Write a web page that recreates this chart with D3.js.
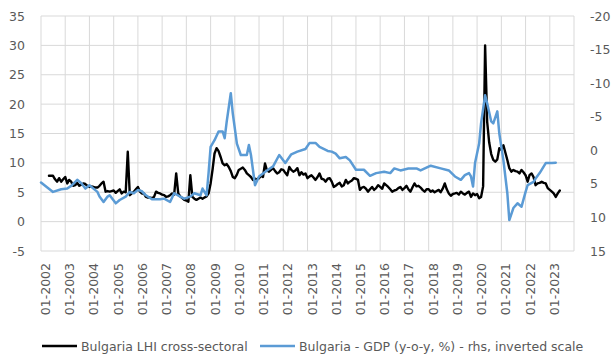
<!DOCTYPE html>
<html>
<head>
<meta charset="utf-8">
<script src="https://cdn.jsdelivr.net/npm/d3@7"></script>
<style>
  html, body { margin: 0; padding: 0; background: #fff; }
  svg { display: block; }
</style>
</head>
<body>
<svg id="chart" width="612" height="356"></svg>
<script>
// Left axis: Bulgaria LHI cross-sectoral (monthly, from May 2002)
const lhiStart = "2002-05";
const lhiValues = [
  7.8,7.8,7.8,7.2,6.8,7.4,6.8,7.2,                       // 2002
  7.6,6.5,7.1,6.8,6.1,6.2,6.6,6.1,6.3,6.5,6.4,6.1,       // 2003
  5.9,6.0,5.9,5.8,5.8,6.1,6.5,6.8,5.1,5.2,5.1,5.2,       // 2004
  5.3,4.9,5.2,5.5,4.8,5.1,5.0,11.9,4.5,4.8,5.1,5.5,      // 2005
  5.9,5.1,4.8,4.8,4.2,4.1,4.1,4.0,4.2,5.1,4.9,4.8,       // 2006
  4.6,4.5,4.2,4.3,4.5,4.8,4.6,8.2,4.8,4.3,4.0,3.7,       // 2007
  3.6,3.4,7.9,4.2,3.9,3.7,3.9,4.1,3.9,4.1,4.3,4.8,       // 2008
  6.5,9.0,11.6,12.5,12.0,11.0,9.9,9.6,9.8,9.3,8.6,7.6,   // 2009
  7.4,8.0,8.8,9.0,9.2,8.8,8.2,7.9,7.6,7.1,7.3,7.2,       // 2010
  7.4,7.8,7.6,9.9,8.7,8.5,8.8,9.1,8.6,8.2,8.4,8.9,       // 2011
  8.8,8.3,7.9,9.3,8.8,8.5,8.7,9.1,7.9,8.4,8.0,8.2,       // 2012
  7.4,7.7,7.9,7.5,7.1,7.6,8.2,7.3,7.2,6.8,7.3,7.4,       // 2013
  6.8,5.9,6.1,6.4,6.6,6.0,6.2,7.1,6.5,6.8,7.0,7.4,       // 2014
  7.3,7.1,5.4,5.8,5.9,5.6,5.1,5.5,5.9,5.4,5.7,6.2,       // 2015
  5.9,5.6,6.5,6.2,5.9,5.5,5.1,5.3,5.4,5.7,5.9,5.4,       // 2016
  5.7,6.1,5.5,5.1,5.8,6.5,6.0,6.1,5.8,5.4,5.1,5.5,       // 2017
  5.5,5.1,5.3,5.0,5.2,5.4,5.0,5.6,6.5,5.5,4.8,4.4,       // 2018
  4.7,4.8,4.9,4.6,5.1,4.8,4.6,4.9,5.1,4.2,4.8,4.5,       // 2019
  4.7,4.0,4.2,6.0,30.0,17.0,13.5,11.5,10.5,10.2,10.6,12.5, // 2020
  12.2,13.0,11.8,10.5,9.1,8.5,8.8,8.6,8.5,8.2,8.8,8.4,   // 2021
  7.9,6.8,7.9,8.2,7.6,6.2,6.5,6.6,6.8,6.6,6.5,5.7,       // 2022
  5.4,5.1,4.8,4.2,4.8,5.3                                // 2023
];

// Right axis (inverted): Bulgaria GDP, y-o-y %
const gdpMonths = [
  "2002-01","2002-07","2002-11","2003-02","2003-04","2003-07","2003-09","2003-11",
  "2004-01","2004-05","2004-06","2004-08","2004-10","2004-11","2005-02","2005-04",
  "2005-07","2005-09","2005-11","2006-01","2006-03","2006-05","2006-08","2006-12",
  "2007-02","2007-05","2007-07","2007-10","2007-12","2008-03","2008-05","2008-08",
  "2008-09","2008-11","2008-12","2009-01","2009-03","2009-05","2009-07","2009-08",
  "2009-09","2009-11","2009-12","2010-02","2010-04","2010-07","2010-08","2010-09",
  "2010-11","2011-01","2011-05","2011-08","2011-11","2012-02","2012-05","2012-08",
  "2012-12","2013-02","2013-05","2013-07","2013-11","2014-01","2014-03","2014-05",
  "2014-08","2014-10","2015-01","2015-05","2015-08","2015-11","2016-03","2016-06",
  "2016-08","2016-11","2017-03","2017-07","2017-09","2018-02","2018-07","2018-11",
  "2019-02","2019-05","2019-07","2019-09","2019-10","2019-11","2019-12","2020-02",
  "2020-03","2020-05","2020-06","2020-08","2020-09","2020-11","2020-12","2021-02",
  "2021-04","2021-05","2021-07","2021-09","2021-11","2022-01","2022-02","2022-05",
  "2022-06","2022-08","2022-11","2023-02","2023-04"
];
const gdpValues = [
  4.8,6.2,5.8,5.7,5.3,4.4,4.9,5.7,
  5.2,6.2,6.9,7.7,6.9,6.7,7.9,7.4,
  6.9,6.2,6.4,5.9,6.1,6.7,7.3,7.3,
  7.2,7.7,6.4,6.9,7.2,6.9,6.4,6.7,
  5.7,6.7,3.4,-0.5,-1.5,-2.8,-2.8,-1.8,
  -4.3,-8.5,-5.5,-1.0,0.7,0.7,-0.8,0.7,
  5.2,3.9,3.0,2.4,0.7,1.9,0.6,0.2,
  -0.2,-1.1,-1.1,-0.5,0.1,0.2,0.5,1.2,
  1.0,1.5,2.9,2.9,3.8,3.4,3.2,3.4,
  2.7,3.0,2.7,2.7,3.0,2.3,2.7,3.0,
  3.9,4.4,3.7,3.4,3.9,5.4,1.9,-1.0,
  -4.0,-8.2,-7.0,-4.3,-4.0,-5.8,-2.5,1.5,
  6.4,10.4,8.6,7.9,8.4,6.2,5.2,4.7,
  4.2,3.4,1.9,1.9,1.85
];

const leftTicks = [-5, 0, 5, 10, 15, 20, 25, 30, 35];
const rightTicks = [-20, -15, -10, -5, 0, 5, 10, 15];
const yearTicks = d3.range(2002, 2024);
const seriesNames = ["Bulgaria LHI cross-sectoral", "Bulgaria - GDP (y-o-y, %) - rhs, inverted scale"];
const seriesColors = ["#000000", "#5B9BD5"];

const parseMonth = d3.timeParse("%Y-%m");
const fmt = d3.timeFormat("%m-%Y");
const numFmt = d => String(d);   // plain hyphen for negatives

const plot = { left: 41, right: 574, top: 16, bottom: 251 };
const FONT = '"DejaVu Sans", sans-serif';
const TEXT_COLOR = "#595959";
const GRID_COLOR = "#D9D9D9";

const x = d3.scaleTime()
  .domain([new Date(2002, 0, 1), new Date(2024, 0, 1)])
  .range([plot.left, plot.right]);
const yL = d3.scaleLinear().domain([-5, 35]).range([plot.bottom, plot.top]);
const yR = d3.scaleLinear().domain([-20, 15]).range([plot.top, plot.bottom]);

const svg = d3.select("#chart");

// Grid lines: horizontal at left-axis ticks, vertical at each January
const grid = svg.append("g");
grid.selectAll("line.gh").data(leftTicks).enter().append("line")
  .attr("class", "gh")
  .attr("x1", plot.left).attr("x2", plot.right)
  .attr("y1", d => yL(d)).attr("y2", d => yL(d))
  .attr("stroke", GRID_COLOR).attr("stroke-width", 1);
grid.selectAll("line.gv").data(d3.range(2002, 2025)).enter().append("line")
  .attr("class", "gv")
  .attr("x1", d => x(new Date(d, 0, 1)))
  .attr("x2", d => x(new Date(d, 0, 1)))
  .attr("y1", plot.top).attr("y2", plot.bottom)
  .attr("stroke", GRID_COLOR).attr("stroke-width", 1);

// Left axis labels
const axL = svg.append("g")
  .attr("transform", `translate(${plot.left},0)`)
  .call(d3.axisLeft(yL).tickValues(leftTicks).tickFormat(numFmt).tickSize(0).tickPadding(16));
axL.select(".domain").remove();

// Right axis labels
const axR = svg.append("g")
  .attr("transform", `translate(${plot.right},0)`)
  .call(d3.axisRight(yR).tickValues(rightTicks).tickFormat(numFmt).tickSize(0).tickPadding(16));
axR.select(".domain").remove();

// Bottom axis: rotated month-year labels
const axB = svg.append("g")
  .attr("transform", `translate(0,${plot.bottom})`)
  .call(d3.axisBottom(x).tickValues(yearTicks.map(yr => new Date(yr, 0, 1))).tickFormat(fmt).tickSize(0));
axB.select(".domain").remove();
axB.selectAll("text")
  .attr("text-anchor", "end")
  .attr("y", 0).attr("dy", "0.36em")
  .attr("transform", "translate(4,12) rotate(-90)")
  .attr("x", 0);

[axL, axR, axB].forEach(ax => {
  ax.selectAll(".tick line").remove();
  ax.selectAll("text")
    .attr("fill", TEXT_COLOR)
    .style("font-size", "12.5px")
    .style("font-family", FONT);
});

// Series
const lhiStartDate = parseMonth(lhiStart);
const lhi = lhiValues.map((v, i) => ({ date: d3.timeMonth.offset(lhiStartDate, i), value: v }));
const gdp = gdpMonths.map((m, i) => ({ date: parseMonth(m), value: gdpValues[i] }));

const lineL = d3.line().x(d => x(d.date)).y(d => yL(d.value));
const lineR = d3.line().x(d => x(d.date)).y(d => yR(d.value));

svg.append("path").datum(lhi)
  .attr("d", lineL).attr("fill", "none")
  .attr("stroke", seriesColors[0]).attr("stroke-width", 2.4)
  .attr("stroke-linejoin", "round").attr("stroke-linecap", "round");

svg.append("path").datum(gdp)
  .attr("d", lineR).attr("fill", "none")
  .attr("stroke", seriesColors[1]).attr("stroke-width", 2.5)
  .attr("stroke-linejoin", "round").attr("stroke-linecap", "round");

// Legend
const legendItems = [
  { x1: 42, x2: 77, tx: 81, name: seriesNames[0], color: seriesColors[0] },
  { x1: 260, x2: 295, tx: 299, name: seriesNames[1], color: seriesColors[1] }
];
const lg = svg.append("g");
legendItems.forEach(it => {
  lg.append("line").attr("x1", it.x1).attr("x2", it.x2).attr("y1", 346).attr("y2", 346)
    .attr("stroke", it.color).attr("stroke-width", 2.5);
  lg.append("text").attr("x", it.tx).attr("y", 350.5)
    .attr("fill", TEXT_COLOR)
    .style("font-size", "12.5px").style("font-family", FONT)
    .text(it.name);
});
</script>
</body>
</html>
